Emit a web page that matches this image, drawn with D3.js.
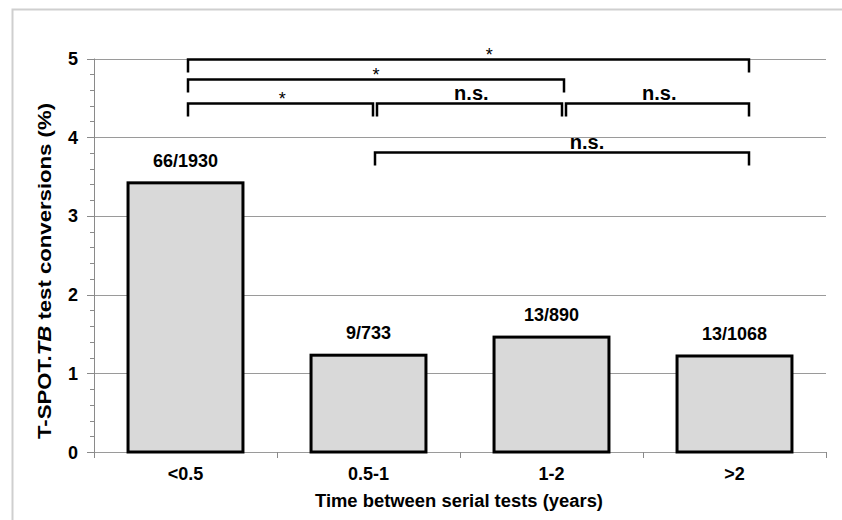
<!DOCTYPE html>
<html>
<head>
<meta charset="utf-8">
<script src="https://cdn.jsdelivr.net/npm/d3@7"></script>
<style>
body{margin:0;background:#fff;}
svg text{font-family:"Liberation Sans",Arial,sans-serif;font-weight:bold;fill:#000;}
</style>
</head>
<body>
<svg id="chart" width="842" height="520"></svg>
<script>
// data
var categories = ["<0.5","0.5-1","1-2",">2"];
var conversions = [3.42,1.23,1.46,1.22];
var barLabels = ["66/1930","9/733","13/890","13/1068"];
var yTicks = [0,1,2,3,4,5];
// brackets: from category, to category, level (y value), label, label position along bracket
var bracketFrom = [0,0,0,1,2,1];
var bracketTo   = [3,2,1,2,3,3];
var bracketLevel= [5,4.74,4.435,4.435,4.435,3.81];
var bracketText = ["*","*","*","n.s.","n.s.","n.s."];
var bracketPos  = [0.537,0.5,0.51,0.51,0.51,0.567];

function draw(dom_id)
{
	var svg = d3.select(dom_id);
	var margin = {left:94,right:16,top:58,bottom:68};
	var width = 842, height = 520;

	// outer frame
	svg.append("rect")
		.attr("x",12.5).attr("y",9.5)
		.attr("width",width+20).attr("height",height+20)
		.style("fill","none").style("stroke","#cfcfcf").style("stroke-width",2);

	var x = d3.scaleBand()
		.domain(categories)
		.range([margin.left,width-margin.right])
		.paddingInner(0.372).paddingOuter(0.186);
	var y = d3.scaleLinear()
		.domain([0,5])
		.range([height-margin.bottom,margin.top+0.5]);
	var xBand = d3.scaleBand().domain(categories).range([margin.left,width-margin.right]);
	var g = svg.append("g");

	// gridlines
	g.selectAll(".grid")
		.data(yTicks)
		.enter()
		.append("line")
		.attr("x1",margin.left).attr("x2",width-margin.right)
		.attr("y1",d=>Math.round(y(d))+0.5).attr("y2",d=>Math.round(y(d))+0.5)
		.style("stroke","#9a9a9a").style("stroke-width",1);

	// y axis with minor ticks
	var minor = d3.range(0,5.01,0.2);
	g.selectAll(".minor")
		.data(minor)
		.enter()
		.append("line")
		.attr("x1",margin.left-4).attr("x2",margin.left)
		.attr("y1",d=>Math.round(y(d))+0.5).attr("y2",d=>Math.round(y(d))+0.5)
		.style("stroke","#8a8a8a");
	g.selectAll(".major")
		.data(yTicks)
		.enter()
		.append("line")
		.attr("x1",margin.left-7).attr("x2",margin.left)
		.attr("y1",d=>Math.round(y(d))+0.5).attr("y2",d=>Math.round(y(d))+0.5)
		.style("stroke","#8a8a8a");
	g.append("line")
		.attr("x1",margin.left+0.5).attr("x2",margin.left+0.5)
		.attr("y1",y(5)).attr("y2",y(0))
		.style("stroke","#8a8a8a");
	g.selectAll(".ylab")
		.data(yTicks)
		.enter()
		.append("text")
		.attr("x",margin.left-16)
		.attr("y",d=>y(d)+6.5)
		.attr("text-anchor","end")
		.style("font-size","18px")
		.text(d=>d);

	// x axis ticks
	var xTickPos = categories.map(c=>xBand(c)).concat([width-margin.right]);
	g.selectAll(".xtick")
		.data(xTickPos)
		.enter()
		.append("line")
		.attr("x1",d=>Math.round(d)+0.5).attr("x2",d=>Math.round(d)+0.5)
		.attr("y1",y(0)).attr("y2",y(0)+6)
		.style("stroke","#8a8a8a");

	// bars
	g.selectAll(".bar")
		.data(conversions)
		.enter()
		.append("rect")
		.attr("x",(d,i)=>x(categories[i]))
		.attr("y",d=>y(d))
		.attr("width",x.bandwidth())
		.attr("height",d=>y(0)-y(d))
		.style("fill","#d9d9d9")
		.style("stroke","#000")
		.style("stroke-width",3);

	g.selectAll(".barlab")
		.data(conversions)
		.enter()
		.append("text")
		.attr("x",(d,i)=>x(categories[i])+x.bandwidth()/2)
		.attr("y",d=>y(d)-16)
		.attr("text-anchor","middle")
		.style("font-size","18px")
		.text((d,i)=>barLabels[i]);

	g.selectAll(".xlab")
		.data(categories)
		.enter()
		.append("text")
		.attr("x",d=>x(d)+x.bandwidth()/2)
		.attr("y",y(0)+28)
		.attr("text-anchor","middle")
		.style("font-size","18px")
		.text(d=>d);

	// brackets
	var cx = i=>x(categories[i])+x.bandwidth()/2;
	var bx = d3.scaleLinear().domain([0,3]).range([cx(0)+2.5,cx(3)+14.5]);
	var pos = c=>bx(c)+(c==2?2:0);
	bracketFrom.forEach((f,i)=>{
		var t = bracketTo[i], lv = bracketLevel[i];
		// split shared end points on one row
		var gapL = bracketTo.some((t2,j)=>j!=i&&t2==f&&bracketLevel[j]==lv) ? 2 : 0;
		var gapR = bracketFrom.some((f2,j)=>j!=i&&f2==t&&bracketLevel[j]==lv) ? 2 : 0;
		var x1 = pos(f)+gapL;
		var x2 = pos(t)-gapR;
		var yy = Math.round(y(lv))+0.5;
		g.append("path")
			.attr("d","M"+x1+","+(yy+13)+"V"+yy+"H"+x2+"V"+(yy+13))
			.style("fill","none").style("stroke","#000").style("stroke-width",2.5);
		var star = bracketText[i]=="*";
		g.append("text")
			.attr("x",x1+(x2-x1)*bracketPos[i])
			.attr("y",star?yy+1:yy-4)
			.attr("text-anchor","middle")
			.style("font-size",star?"18px":"20px")
			.style("font-weight",star?"normal":"bold")
			.text(bracketText[i]);
	});

	// axis titles
	svg.append("text")
		.attr("x",459)
		.attr("y",507)
		.attr("text-anchor","middle")
		.attr("textLength",288)
		.attr("lengthAdjust","spacingAndGlyphs")
		.style("font-size","18px")
		.text("Time between serial tests (years)");
	var yt = svg.append("text")
		.attr("transform","translate(51,271) rotate(-90)")
		.attr("text-anchor","middle")
		.attr("textLength",336)
		.attr("lengthAdjust","spacingAndGlyphs")
		.style("font-size","19px");
	yt.append("tspan").text("T-SPOT.");
	yt.append("tspan").style("font-style","italic").text("TB");
	yt.append("tspan").text(" test conversions (%)");
}
draw("#chart");
</script>
</body>
</html>
